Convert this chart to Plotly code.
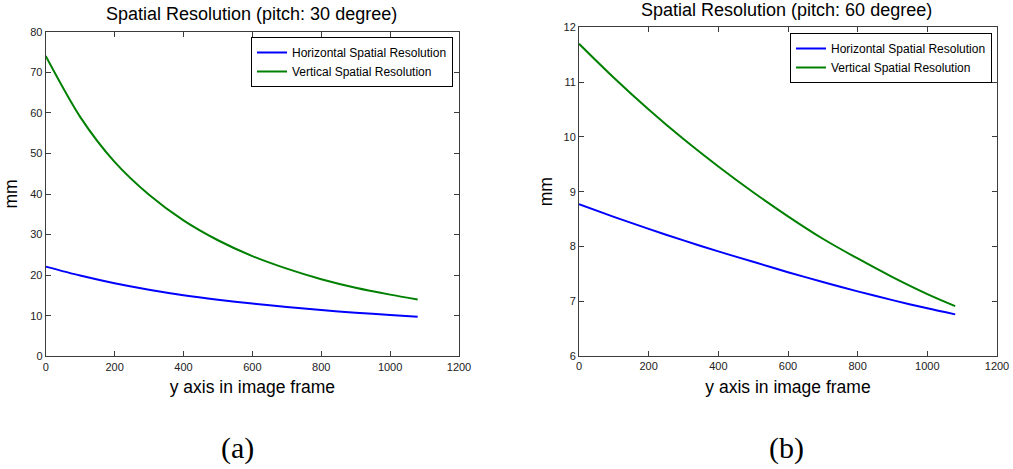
import plotly.graph_objects as go

# ---- data ----
y_pixel = [0, 100, 200, 300, 400, 500, 600, 700, 800, 900, 1000, 1080]

# (a) pitch 30 degree
horiz_30 = [22.1, 19.9, 18.0, 16.4, 15.05, 13.95, 13.0, 12.15, 11.4, 10.75, 10.2, 9.75]
vert_30 = [74.0, 59.0, 47.9, 39.8, 33.5, 28.6, 24.7, 21.6, 19.0, 16.9, 15.2, 14.0]

# (b) pitch 60 degree
horiz_60 = [8.77, 8.54, 8.32, 8.11, 7.91, 7.72, 7.53, 7.35, 7.18, 7.02, 6.87, 6.76]
vert_60 = [11.70, 11.08, 10.50, 9.96, 9.46, 8.99, 8.55, 8.14, 7.78, 7.44, 7.13, 6.91]

x_ticks = [0, 200, 400, 600, 800, 1000, 1200]
titles = ["Spatial Resolution (pitch: 30 degree)", "Spatial Resolution (pitch: 60 degree)"]
series_names = ["Horizontal Spatial Resolution", "Vertical Spatial Resolution"]
captions = ["(a)", "(b)"]
xlabel = "y axis in image frame"
ylabel = "mm"

BLUE = "#0000FF"
GREEN = "#008000"
AX = "#3c3c3c"

W, H = 1013, 469

fig = go.Figure()

line_h = dict(color=BLUE, width=2, shape="spline", smoothing=0.8)
line_v = dict(color=GREEN, width=2, shape="spline", smoothing=0.8)

fig.add_trace(go.Scatter(x=y_pixel, y=horiz_30, mode="lines", name=series_names[0],
                         line=line_h, xaxis="x", yaxis="y", legend="legend"))
fig.add_trace(go.Scatter(x=y_pixel, y=vert_30, mode="lines", name=series_names[1],
                         line=line_v, xaxis="x", yaxis="y", legend="legend"))
fig.add_trace(go.Scatter(x=y_pixel, y=horiz_60, mode="lines", name=series_names[0],
                         line=line_h, xaxis="x2", yaxis="y2", legend="legend2"))
fig.add_trace(go.Scatter(x=y_pixel, y=vert_60, mode="lines", name=series_names[1],
                         line=line_v, xaxis="x2", yaxis="y2", legend="legend2"))


def px_x(p):
    return p / W


def px_y(p):
    return 1 - p / H


tickfont = dict(family="Liberation Sans, Arial", size=11, color="#222")
axis_common = dict(showline=True, linecolor=AX, linewidth=1, mirror="ticks",
                   ticks="inside", ticklen=5, tickcolor=AX, showgrid=False,
                   zeroline=False, tickfont=tickfont, automargin=False)
title_font = dict(family="Liberation Sans, Arial", size=18, color="#000")
label_font = dict(family="Liberation Sans, Arial", size=17.5, color="#000")
legend_font = dict(family="Liberation Sans, Arial", size=12, color="#000")

fig.update_layout(
    width=W, height=H,
    margin=dict(l=0, r=0, t=0, b=0),
    paper_bgcolor="white", plot_bgcolor="white",
    showlegend=True,
    xaxis=dict(domain=[px_x(45.7), px_x(459)], range=[0, 1200], tickvals=x_ticks,
               anchor="y", title=dict(text=xlabel, font=label_font, standoff=9), **axis_common),
    yaxis=dict(domain=[px_y(356.3), px_y(31.7)], range=[0, 80], dtick=10,
               anchor="x", title=dict(text=ylabel, font=label_font, standoff=8), **axis_common),
    xaxis2=dict(domain=[px_x(579), px_x(997)], range=[0, 1200], tickvals=x_ticks,
                anchor="y2", title=dict(text=xlabel, font=label_font, standoff=9), **axis_common),
    yaxis2=dict(domain=[px_y(356), px_y(27.3)], range=[6, 12], dtick=1,
                anchor="x2", title=dict(text=ylabel, font=label_font, standoff=6), **axis_common),
    legend=dict(x=px_x(453), y=px_y(37), xanchor="right", yanchor="top",
                bordercolor="#000", borderwidth=1, bgcolor="white",
                font=legend_font, tracegroupgap=0, itemwidth=30),
    legend2=dict(x=px_x(992), y=px_y(33), xanchor="right", yanchor="top",
                 bordercolor="#000", borderwidth=1, bgcolor="white",
                 font=legend_font, tracegroupgap=0, itemwidth=30),
)

annotations = [
    dict(text=titles[0], x=px_x(251), y=px_y(14), xref="paper", yref="paper",
         xanchor="center", yanchor="middle", showarrow=False, font=title_font),
    dict(text=titles[1], x=px_x(786), y=px_y(10), xref="paper", yref="paper",
         xanchor="center", yanchor="middle", showarrow=False, font=title_font),
    dict(text=captions[0], x=px_x(237.5), y=px_y(448), xref="paper", yref="paper",
         xanchor="center", yanchor="middle", showarrow=False,
         font=dict(family="Liberation Serif, Times New Roman", size=30, color="#000")),
    dict(text=captions[1], x=px_x(786), y=px_y(448), xref="paper", yref="paper",
         xanchor="center", yanchor="middle", showarrow=False,
         font=dict(family="Liberation Serif, Times New Roman", size=30, color="#000")),
]
fig.update_layout(annotations=annotations)

fig.write_html("out.html", config={"displayModeBar": False},
               post_script="document.body.style.margin='0';document.body.style.overflow='hidden';")
